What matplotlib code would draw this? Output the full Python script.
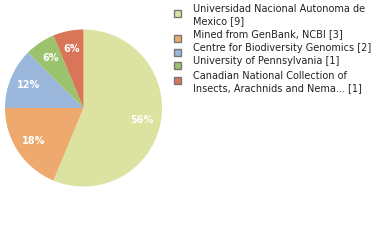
import matplotlib
matplotlib.use("Agg")
import matplotlib.pyplot as plt
from matplotlib.patches import Rectangle

labels = [
    "Universidad Nacional Autonoma de\nMexico [9]",
    "Mined from GenBank, NCBI [3]",
    "Centre for Biodiversity Genomics [2]",
    "University of Pennsylvania [1]",
    "Canadian National Collection of\nInsects, Arachnids and Nema... [1]",
]
counts = [9, 3, 2, 1, 1]
colors = ["#dce29f", "#eeaa6e", "#9bb8dc", "#9bc36d", "#d97558"]

W, H = 380, 240
fig = plt.figure(figsize=(W / 100, H / 100), dpi=100)

# pie, centre (83.5, 108) px, radius 78.5 px
cx, cy, r = 83.5, 108, 78.5
ax = fig.add_axes([(cx - r) / W, (H - cy - r) / H, 2 * r / W, 2 * r / H])
total = sum(counts)
ax.pie(counts, colors=colors, startangle=90, counterclock=False,
       autopct=lambda p: "%d%%" % int(p + 1e-9), pctdistance=0.76,
       wedgeprops=dict(linewidth=0),
       textprops=dict(color="white", fontsize=7, fontweight="bold"))
ax.set_xlim(-1, 1)
ax.set_ylim(-1, 1)
ax.set_aspect("equal")
ax.axis("off")

# legend drawn by hand, positions in pixels from top-left
tops = [4, 29, 43, 56, 71]
for lab, col, top in zip(labels, colors, tops):
    fig.patches.append(Rectangle((174 / W, 1 - (top + 13) / H), 7 / W, 7 / H,
                                 transform=fig.transFigure, facecolor=col,
                                 edgecolor="#777777", linewidth=1))
    fig.text(193 / W, 1 - top / H, lab, fontsize=7, color="#222222",
             va="top", ha="left", linespacing=1.25)

fig.savefig("out.png", dpi=100)
